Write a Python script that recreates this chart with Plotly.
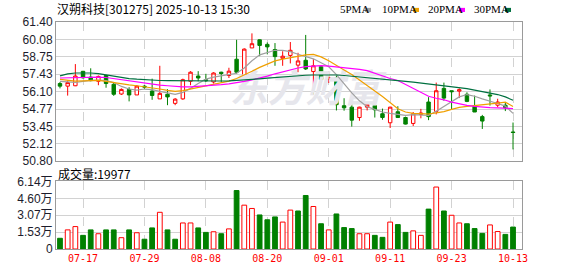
import plotly.graph_objects as go

# ---------------- data ----------------
stock_name = "汉朔科技"
stock_code = "301275"
timestamp = "2025-10-13 15:30"

dates = ["07-14","07-15","07-16","07-17","07-18","07-21","07-22","07-23","07-24","07-25",
         "07-28","07-29","07-30","07-31","08-01","08-04","08-05","08-06","08-07","08-08",
         "08-11","08-12","08-13","08-14","08-15","08-18","08-19","08-20","08-21","08-22",
         "08-25","08-26","08-27","08-28","08-29","09-01","09-02","09-03","09-04","09-05",
         "09-08","09-09","09-10","09-11","09-12","09-15","09-16","09-17","09-18","09-19",
         "09-22","09-23","09-24","09-25","09-26","09-29","09-30","10-09","10-10","10-13"]

opens = [56.72,56.52,56.55,57.65,57.21,56.89,57.33,56.66,55.92,56.27,
         55.85,56.52,56.15,55.55,55.90,55.21,55.55,56.89,57.29,57.01,
         56.84,57.58,57.33,58.57,57.25,59.43,60.05,59.70,59.31,58.64,
         58.86,58.12,58.49,57.63,58.00,57.06,57.14,55.03,54.92,54.13,
         54.92,55.04,54.42,53.73,54.57,54.13,53.68,54.37,55.31,54.60,
         56.35,56.17,56.14,55.90,54.99,54.20,55.85,55.07,55.07,53.03]
highs = [56.84,56.96,58.20,57.68,57.88,57.33,57.38,56.84,56.35,56.44,
         56.60,56.60,57.09,58.07,56.29,55.61,57.09,57.66,57.66,57.46,
         57.58,57.62,57.92,60.05,59.40,60.54,60.08,59.85,59.80,59.18,
         59.88,59.06,60.42,58.57,58.05,57.63,57.33,55.60,55.41,54.95,
         55.31,55.21,54.81,54.95,54.99,54.20,54.55,54.79,55.68,56.79,
         56.79,56.17,56.35,56.05,55.80,54.33,56.27,55.56,55.24,53.75]
lows = [56.35,55.80,56.52,57.09,56.89,56.59,56.40,55.78,55.85,55.36,
        55.85,56.30,55.48,55.55,55.07,55.07,55.48,56.59,56.89,56.84,
        56.72,56.84,57.14,57.46,57.10,59.43,58.81,58.94,58.07,58.07,
        58.25,57.58,57.75,55.90,56.76,56.77,54.67,54.65,53.44,53.88,
        54.67,54.13,53.96,53.33,54.13,53.60,53.48,54.07,53.93,54.37,
        55.41,54.74,55.61,55.30,54.55,53.26,55.04,54.92,54.62,51.70]
closes = [56.52,56.79,57.29,57.16,56.94,57.26,56.72,55.90,56.27,55.85,
          56.52,56.45,55.81,55.97,55.70,55.53,57.01,57.58,57.14,56.94,
          57.52,57.48,57.66,57.58,59.34,59.75,59.62,59.51,58.77,58.80,
          59.25,58.44,57.83,58.07,57.03,57.18,55.11,54.87,53.93,54.92,
          55.14,54.72,54.13,54.92,54.13,53.63,54.42,54.47,54.20,56.17,
          55.61,56.10,56.25,55.36,54.55,53.86,55.78,55.31,54.87,52.99]

ma5 = [56.89,56.84,56.80,56.88,56.96,56.98,56.95,56.80,56.50,56.30,
       56.22,56.30,56.25,56.12,56.00,55.90,56.05,56.35,56.72,57.05,
       57.20,57.30,57.40,57.50,57.90,58.45,58.90,59.10,59.25,59.25,
       59.15,58.95,58.80,58.60,58.30,58.00,57.40,56.70,56.00,55.40,
       54.95,54.75,54.55,54.45,54.38,54.30,54.35,54.35,54.30,54.60,
       54.95,55.35,55.70,55.88,55.75,55.55,55.40,55.20,55.00,54.45]
ma10 = [57.03,56.95,56.90,56.92,56.95,56.96,56.88,56.78,56.70,56.62,
        56.55,56.48,56.38,56.30,56.20,56.12,56.18,56.30,56.42,56.55,
        56.65,56.78,56.90,57.10,57.35,57.65,57.95,58.20,58.44,58.58,
        58.69,58.82,58.90,58.94,58.75,58.45,58.07,57.75,57.40,57.00,
        56.60,56.15,55.73,55.30,54.80,54.55,54.45,54.42,54.40,54.48,
        54.58,54.75,54.90,54.98,55.03,55.07,55.15,55.22,55.30,54.97]
ma20 = [57.14,57.16,57.18,57.18,57.20,57.21,57.18,57.09,57.00,56.92,
        56.84,56.76,56.68,56.60,56.55,56.50,56.47,56.47,56.50,56.55,
        56.60,56.64,56.70,56.78,56.88,57.00,57.12,57.28,57.46,57.62,
        57.78,57.90,58.00,58.05,58.08,58.05,58.00,57.95,57.88,57.80,
        57.70,57.50,57.25,57.10,56.95,56.65,56.35,56.05,55.75,55.60,
        55.48,55.30,55.16,55.05,54.98,54.92,54.88,54.86,54.84,54.81]
ma30 = [57.30,57.45,57.52,57.53,57.52,57.48,57.38,57.28,57.18,57.10,
        57.05,57.00,56.96,56.95,56.94,56.93,56.93,56.92,56.92,56.91,
        56.91,56.91,56.92,56.95,56.98,57.03,57.08,57.13,57.18,57.23,
        57.28,57.32,57.35,57.37,57.38,57.38,57.37,57.33,57.28,57.22,
        57.16,57.10,57.04,57.00,56.95,56.88,56.82,56.75,56.68,56.62,
        56.56,56.50,56.42,56.33,56.22,56.12,56.00,55.88,55.70,55.45]

volumes = [9750,17400,20400,12400,17400,13900,17400,17400,10300,17400,
           14800,8900,19200,33400,17400,8900,23700,23700,19200,15100,
           15700,13900,18300,53200,39900,36900,31000,26600,29200,24500,
           35400,34600,48700,38700,23000,17400,31900,19500,18600,13900,
           13900,12400,10600,24500,22200,15100,16500,12400,36300,56400,
           34600,30700,23700,23000,18600,14200,21900,15900,13300,19977]
volume_up = [0,1,1,0,0,1,0,0,1,0,
             1,0,0,1,0,0,1,1,0,0,
             1,0,1,0,1,1,0,0,0,1,
             1,0,0,1,0,1,0,0,0,1,
             1,0,0,1,0,0,1,1,0,1,
             0,1,1,0,0,0,1,1,0,0]

label_dates = ["07-17","07-29","08-08","08-20","09-01","09-11","09-23","10-13"]
price_ticks = [50.80,52.12,53.45,54.77,56.10,57.43,58.75,60.08,61.40]
vol_ticks = [0,15350,30700,46050,61400]
vol_tick_text = ["0","1.53万","3.07万","4.60万","6.14万"]
ma_names = ["5PMA","10PMA","20PMA","30PMA"]

# ---------------- style / layout ----------------
W, H = 578, 276
L, R, T, B = 56, 522, 22, 255
MAIN_BOTTOM = 165
VOL_TOP = 185.7

def px(xp):
    return (xp - L) / (R - L)

def py(yp):
    return (B - yp) / (B - T)

RED = "#ff0000"
GREEN = "#008000"
GRID = "#d2d2d2"
BORDER = "#9a9a9a"
ma_colors = ["#a0a0a0", "#f0a000", "#ff00ff", "#007040"]

fig = go.Figure()

# watermark (drawn first so it stays beneath the marks)
fig.add_trace(go.Scatter(
    x=[dates[32]], y=[56.0], mode="text", text=["东方财富"],
    textfont=dict(size=38, color="#e6e6ec", family="Noto Sans CJK SC",
                  weight="bold", style="italic"),
    hoverinfo="skip", showlegend=False, xaxis="x", yaxis="y"))

fig.add_trace(go.Candlestick(
    x=dates, open=opens, high=highs, low=lows, close=closes,
    increasing=dict(line=dict(color=RED, width=1), fillcolor="#ffffff"),
    decreasing=dict(line=dict(color=GREEN, width=1), fillcolor=GREEN),
    whiskerwidth=0, showlegend=False, hoverinfo="skip",
    xaxis="x", yaxis="y"))

for name, vals, col in zip(ma_names, [ma5, ma10, ma20, ma30], ma_colors):
    fig.add_trace(go.Scatter(
        x=dates, y=vals, mode="lines", name=name,
        line=dict(color=col, width=1.2), showlegend=False,
        hoverinfo="skip", xaxis="x", yaxis="y"))

fig.add_trace(go.Bar(
    x=dates, y=volumes, width=0.62,
    marker=dict(color=["#ffffff" if u else GREEN for u in volume_up],
                line=dict(color=[RED if u else GREEN for u in volume_up], width=1)),
    showlegend=False, hoverinfo="skip", xaxis="x2", yaxis="y2"))

axis_common = dict(showline=True, mirror=True, linecolor=BORDER, linewidth=1,
                   zeroline=False, ticks="")

xr = [-0.52, len(dates) - 1 + 1.17]
fig.update_layout(
    width=W, height=H,
    margin=dict(l=L, r=W - R, t=T, b=H - B),
    paper_bgcolor="#ffffff", plot_bgcolor="#ffffff",
    boxgap=0.36,
    showlegend=False,
    xaxis=dict(domain=[0, 1], type="category", categoryorder="array",
               categoryarray=dates, range=xr, anchor="y",
               tickvals=label_dates, showticklabels=False,
               showgrid=True, gridcolor=GRID, griddash="dash", gridwidth=1,
               rangeslider=dict(visible=False), **axis_common),
    yaxis=dict(domain=[py(MAIN_BOTTOM), 1], range=[50.795, 61.405],
               tickvals=price_ticks, ticktext=[f"{v:.2f}" for v in price_ticks],
               showgrid=True, gridcolor=GRID, gridwidth=1,
               tickfont=dict(family="Liberation Sans", size=12, color="#1c1c2c"),
               **axis_common),
    xaxis2=dict(domain=[0, 1], type="category", categoryorder="array",
                categoryarray=dates, range=xr, anchor="y2", matches="x",
                tickvals=label_dates, ticktext=label_dates,
                showgrid=True, gridcolor=GRID, griddash="dash", gridwidth=1,
                tickfont=dict(family="DejaVu Sans Mono", size=10, color=RED),
                **axis_common),
    yaxis2=dict(domain=[0, py(VOL_TOP)], range=[0, 61450],
                tickvals=vol_ticks, ticktext=vol_tick_text,
                showgrid=True, gridcolor=GRID, gridwidth=1,
                tickfont=dict(family="Liberation Sans, Noto Sans CJK SC", size=12,
                              color="#1c1c2c"),
                **axis_common),
)

annotations = [
    dict(text=f"{stock_name}[{stock_code}] {timestamp}",
         x=px(55), y=py(8.5), xref="paper", yref="paper",
         xanchor="left", yanchor="middle", showarrow=False,
         font=dict(family="Noto Sans CJK SC", size=12, color="#000000")),
    dict(text=f"成交量:{volumes[-1]}",
         x=px(56), y=py(177.5), xref="paper", yref="paper",
         xanchor="left", yanchor="middle", showarrow=False,
         font=dict(family="Noto Sans CJK SC", size=12, color="#000000")),
]
legend_text_x = [338, 380, 426, 472]
legend_swatch_x = [365, 413, 459, 505]
shapes = []
for name, col, tx, sx in zip(ma_names, ma_colors, legend_text_x, legend_swatch_x):
    annotations.append(dict(text=name, x=px(tx), y=py(9), xref="paper", yref="paper",
                            xanchor="left", yanchor="middle", showarrow=False,
                            font=dict(family="Liberation Serif", size=11, color="#000000")))
    shapes.append(dict(type="rect", xref="paper", yref="paper",
                       x0=px(sx), x1=px(sx + 6), y0=py(11.7), y1=py(7.5),
                       fillcolor=col, line=dict(width=0)))
fig.update_layout(annotations=annotations, shapes=shapes)

fig.write_html("out.html")
